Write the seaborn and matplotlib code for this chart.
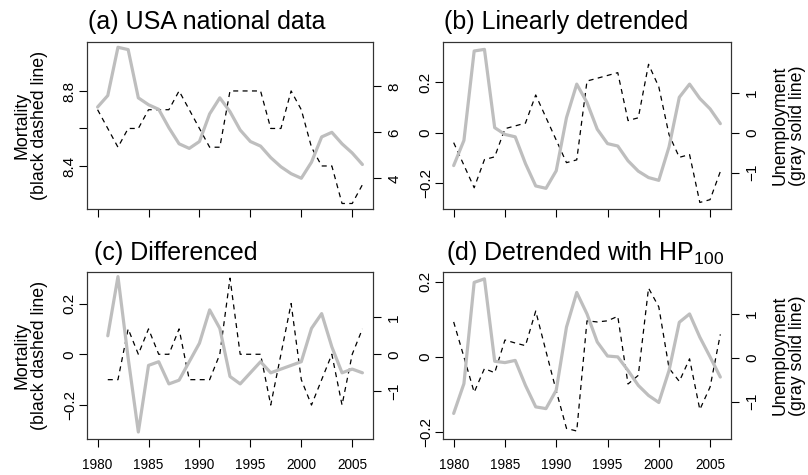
import numpy as np
import matplotlib
matplotlib.use("Agg")
import matplotlib.pyplot as plt
import seaborn as sns

# ----- data -----
years = np.arange(1980, 2007)
years_diff = np.arange(1981, 2007)

# (a) levels
mortality = [8.7, 8.6, 8.5, 8.6, 8.6, 8.7, 8.7, 8.7, 8.8, 8.7, 8.6, 8.5, 8.5, 8.8,
             8.8, 8.8, 8.8, 8.6, 8.6, 8.8, 8.7, 8.5, 8.4, 8.4, 8.2, 8.2, 8.3]
unemployment = [7.1, 7.6, 9.7, 9.6, 7.5, 7.2, 7.0, 6.2, 5.5, 5.3, 5.6, 6.8, 7.5, 6.9,
                6.1, 5.6, 5.4, 4.9, 4.5, 4.2, 4.0, 4.7, 5.8, 6.0, 5.5, 5.1, 4.6]

# (b) linearly detrended
mort_linear = [-0.039, -0.128, -0.217, -0.106, -0.095, 0.016, 0.027, 0.038, 0.149,
               0.060, -0.029, -0.118, -0.107, 0.204, 0.215, 0.226, 0.237, 0.048,
               0.059, 0.270, 0.181, -0.008, -0.097, -0.086, -0.275, -0.264, -0.153]
unemp_linear = [-0.82, -0.19, 2.05, 2.09, 0.13, -0.04, -0.10, -0.77, -1.33, -1.39,
                -0.95, 0.38, 1.22, 0.76, 0.09, -0.27, -0.33, -0.70, -0.96, -1.12,
                -1.19, -0.35, 0.89, 1.22, 0.86, 0.60, 0.23]

# (c) differenced
mort_diff = [-0.1, -0.1, 0.1, 0.0, 0.1, 0.0, 0.0, 0.1, -0.1, -0.1, -0.1, 0.0, 0.3,
             0.0, 0.0, 0.0, -0.2, 0.0, 0.2, -0.1, -0.2, -0.1, 0.0, -0.2, 0.0, 0.1]
unemp_diff = [0.5, 2.1, -0.1, -2.1, -0.3, -0.2, -0.8, -0.7, -0.2, 0.3, 1.2, 0.7, -0.6,
              -0.8, -0.5, -0.2, -0.5, -0.4, -0.3, -0.2, 0.7, 1.1, 0.2, -0.5, -0.4, -0.5]

# (d) detrended with HP100
mort_hp = [0.093, 0.0, -0.094, -0.031, -0.042, 0.045, 0.037, 0.030, 0.122, 0.015,
           -0.09, -0.19, -0.197, 0.096, 0.093, 0.096, 0.108, -0.072, -0.049, 0.183,
           0.133, -0.03, -0.065, -0.005, -0.14, -0.08, 0.06]
unemp_hp = [-1.27, -0.59, 1.72, 1.80, -0.08, -0.11, -0.06, -0.63, -1.12, -1.16,
            -0.74, 0.70, 1.49, 1.00, 0.36, 0.04, 0.02, -0.29, -0.63, -0.86,
            -1.02, -0.29, 0.81, 1.00, 0.47, 0.02, -0.44]

MINUS = "\u2212"

sns.set_theme(style="ticks")
plt.rcParams["font.family"] = ["Liberation Sans", "DejaVu Sans"]
plt.rcParams["mathtext.default"] = "regular"
plt.rcParams["text.color"] = "black"
plt.rcParams["axes.labelcolor"] = "black"
plt.rcParams["xtick.color"] = "black"
plt.rcParams["ytick.color"] = "black"

W, H = 808, 475
fig = plt.figure(figsize=(W / 100, H / 100), dpi=100)
fig.patch.set_facecolor("white")


def px_rect(left, top, right, bottom):
    return [left / W, (H - bottom) / H, (right - left) / W, (bottom - top) / H]


def draw_panel(box, x, mort, unemp, title, title_x, left_lim, right_lim,
               left_ticks, left_labels, right_ticks, right_labels, show_xlabels):
    ax = fig.add_axes(px_rect(*box))
    sns.lineplot(x=x, y=mort, ax=ax, color="black", linewidth=0.9, linestyle="--")
    ax.lines[-1].set_dashes([4, 3.5])
    ax2 = ax.twinx()
    sns.lineplot(x=x, y=unemp, ax=ax2, color="#BEBEBE", linewidth=2.3)

    ax.set_xlim(1978.96, 2007.04)
    ax.set_ylim(*left_lim)
    ax2.set_ylim(*right_lim)

    ax.set_xticks(range(1980, 2006, 5))
    if show_xlabels:
        ax.set_xticklabels([str(v) for v in range(1980, 2006, 5)], fontsize=9.8,
                           color="black")
    else:
        ax.set_xticklabels([])
    ax.set_yticks(left_ticks)
    ax.set_yticklabels(left_labels, rotation=90, va="center", fontsize=11,
                       color="black")
    ax2.set_yticks(right_ticks)
    ax2.set_yticklabels(right_labels, rotation=90, va="center", fontsize=11,
                        color="black")

    ax.tick_params(axis="x", direction="out", length=5.8, width=0.8, pad=7.5, colors="black")
    ax.tick_params(axis="y", direction="out", length=5.8, width=0.8, pad=1.5, colors="black")
    ax2.tick_params(axis="y", direction="out", length=5.8, width=0.8, pad=4.5, colors="black")

    for a in (ax, ax2):
        a.set_xlabel("")
        a.set_ylabel("")
        a.grid(False)
        for s in a.spines.values():
            s.set_visible(True)
            s.set_color("#333333")
            s.set_linewidth(0.8)
    ax.set_facecolor("white")

    top = box[1]
    fig.text(title_x / W, (H - (top - 12.5)) / H, title, fontsize=18,
             ha="left", va="baseline", color="black")
    return ax, ax2


panels = [
    ((87, 42, 373, 209.3), years, mortality, unemployment, "(a) USA national data", 88.5,
     (8.169, 9.061), (2.65, 9.93), [8.4, 8.6, 8.8], ["8.4", "", "8.8"],
     [4, 6, 8], ["4", "6", "8"], False),
    ((443, 42, 731, 209.3), years, mort_linear, unemp_linear, "(b) Linearly detrended", 443.5,
     (-0.302, 0.358), (-1.915, 2.275), [-0.2, 0, 0.2], [MINUS + "0.2", "0", "0.2"],
     [-1, 0, 1], [MINUS + "1", "0", "1"], False),
    ((87, 272.3, 373, 439.3), years_diff, mort_diff, unemp_diff, "(c) Differenced", 93.5,
     (-0.335, 0.323), (-2.297, 2.216), [-0.2, 0, 0.2], [MINUS + "0.2", "0", "0.2"],
     [-1, 0, 1], [MINUS + "1", "0", "1"], True),
    ((443, 272.3, 731, 439.3), years, mort_hp, unemp_hp, r"(d) Detrended with HP$_{100}$", 445.5,
     (-0.219, 0.225), (-1.86, 1.95), [-0.2, 0, 0.2], [MINUS + "0.2", "0", "0.2"],
     [-1, 0, 1], [MINUS + "1", "0", "1"], True),
]

for p in panels:
    draw_panel(*p)

# axis titles (left and right columns)
for yc in (125.6, 355.8):
    fig.text(31 / W, (H - yc) / H, "Mortality\n(black dashed line)", rotation=90,
             ha="center", va="center", fontsize=12.8, linespacing=1.05,
             multialignment="center", color="black")
    fig.text(788.5 / W, (H - yc) / H, "Unemployment\n(gray solid line)", rotation=90,
             ha="center", va="center", fontsize=12.8, linespacing=1.05,
             multialignment="center", color="black")

fig.savefig("out.png", dpi=100, facecolor="white")
